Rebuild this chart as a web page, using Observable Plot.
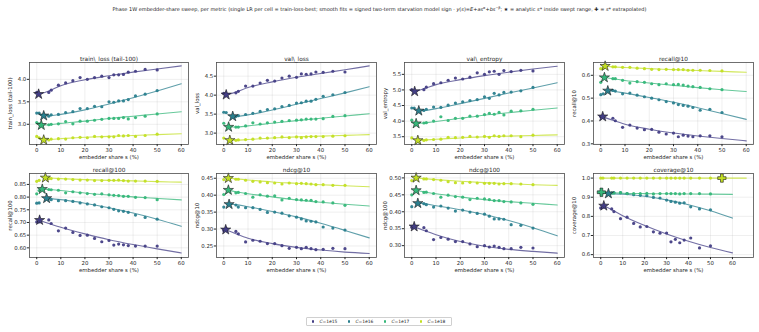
<!DOCTYPE html>
<html><head><meta charset="utf-8">
<script src="https://cdn.jsdelivr.net/npm/d3@7"></script>
<script src="https://cdn.jsdelivr.net/npm/@observablehq/plot@0.6"></script>
<style>
body{margin:0;background:#fff;font-family:"DejaVu Sans",sans-serif;}
#fig{position:relative;width:759px;height:332px;overflow:hidden;background:#fff}
.panel{position:absolute}
#suptitle{position:absolute;top:6px;left:0;width:759px;text-align:center;font-size:5px;color:#222;white-space:nowrap;line-height:6px}
#suptitle sup{font-size:3.5px;vertical-align:2px;line-height:0}
#legend{position:absolute;left:306px;top:317px;width:144px;height:7px;border:0.6px solid #d0d0d0;border-radius:1px;display:flex;align-items:center;font-size:4.4px;color:#222}
#legend .it{display:flex;align-items:center;width:37.7px}
#legend .dot{width:2.4px;height:2.4px;border-radius:50%;margin-left:4.6px;margin-right:5.5px}
</style></head><body>
<div id="fig">
<div id="suptitle">Phase 1W embedder-share sweep, per metric (single LR per cell = train-loss-best; smooth fits = signed two-term starvation model sign · <i>y</i>(<i>s</i>)=<i>E</i>+<i>as</i><sup>α</sup>+<i>bs</i><sup>−β</sup>; ★ = analytic <i>s</i>* inside swept range, ✚ = <i>s</i>* extrapolated)</div>
<div id="legend"></div>
</div>
<script>
// ---------------- data ----------------
const seriesNames = ["C=1e15", "C=1e16", "C=1e17", "C=1e18"];
const sGrid = [0, 1, 5, 6, 9, 12, 15, 18, 21, 24, 27, 30, 32, 34, 36, 38, 41, 45, 50];
const xTicks = [0, 10, 20, 30, 40, 50, 60];

const trainLoss = [
  [3.71, null, 3.71, 3.76, 3.87, 3.92, 3.97, 4.04, 4.00, 4.04, 4.07, 4.04, 4.10, 4.10, 4.11, 4.16, 4.18, 4.22, 4.21],
  [3.25, 3.25, 3.18, 3.21, 3.22, 3.26, 3.28, 3.35, 3.35, 3.40, 3.39, 3.50, 3.49, 3.52, 3.52, 3.55, 3.63, 3.67, 3.75],
  [3.04, 3.01, 2.99, 3.00, 3.01, 3.06, 3.01, 3.07, 3.07, 3.09, 3.11, 3.13, 3.13, 3.13, 3.15, 3.12, 3.15, 3.18, 3.23],
  [2.73, 2.70, 2.65, 2.67, 2.68, 2.67, 2.70, 2.71, 2.70, 2.73, 2.72, 2.72, 2.72, 2.75, 2.74, 2.75, 2.73, 2.75, 2.78]
];
const valLoss = [
  [4.05, null, 4.06, 4.10, 4.24, 4.24, 4.32, 4.39, 4.37, 4.45, 4.50, 4.47, 4.56, 4.55, 4.56, 4.61, 4.60, 4.63, 4.61],
  [3.55, 3.54, 3.44, 3.46, 3.49, 3.52, 3.57, 3.62, 3.64, 3.70, 3.73, 3.79, 3.80, 3.84, 3.84, 3.89, 3.97, 4.01, 4.07],
  [3.26, null, 3.16, 3.16, 3.19, 3.27, 3.24, 3.27, 3.29, 3.31, 3.33, 3.34, 3.35, 3.37, 3.37, 3.37, 3.38, 3.44, 3.46],
  [2.87, null, 2.81, 2.82, 2.83, 2.84, 2.87, 2.87, 2.88, 2.90, 2.88, 2.90, 2.88, 2.90, 2.91, 2.91, 2.91, 2.92, 2.93]
];
const valEntropy = [
  [5.01, null, 5.01, 5.09, 5.20, 5.23, 5.31, 5.38, 5.35, 5.41, 5.55, 5.50, 5.58, 5.60, 5.50, 5.62, 5.59, 5.63, 5.61],
  [4.42, 4.42, 4.34, 4.38, 4.45, 4.44, 4.51, 4.58, 4.62, 4.66, 4.69, 4.78, 4.73, 4.89, 4.84, 4.92, 4.93, 4.97, 5.08],
  [4.03, null, 3.94, 3.95, 4.00, 4.14, 4.02, 4.09, 4.09, 4.16, 4.16, 4.21, 4.25, 4.22, 4.28, 4.20, 4.32, 4.33, 4.38],
  [3.46, null, 3.38, 3.40, 3.41, 3.42, 3.48, 3.47, 3.48, 3.51, 3.49, 3.51, 3.48, 3.53, 3.51, 3.53, 3.53, 3.50, 3.55]
];
const recall10 = [
  [0.419, null, 0.412, 0.401, 0.372, 0.382, 0.369, 0.362, 0.363, 0.351, 0.343, 0.347, 0.331, 0.338, 0.334, 0.331, 0.335, 0.335, 0.331],
  [0.515, 0.519, 0.534, 0.531, 0.519, 0.522, 0.513, 0.506, 0.500, 0.493, 0.485, 0.479, 0.472, 0.468, 0.465, 0.459, 0.447, 0.451, 0.437],
  [0.569, null, 0.585, 0.585, 0.578, 0.566, 0.572, 0.569, 0.563, 0.559, 0.563, 0.559, 0.560, 0.557, 0.553, 0.550, 0.547, 0.541, 0.537],
  [0.629, 0.631, 0.637, 0.637, 0.635, 0.635, 0.631, 0.629, 0.626, 0.625, 0.626, 0.625, 0.625, 0.625, 0.622, 0.622, 0.622, 0.621, 0.619]
];
const recall100 = [
  [0.702, 0.702, 0.710, 0.696, 0.667, 0.678, 0.661, 0.649, 0.650, 0.637, 0.624, 0.629, 0.611, 0.615, 0.612, 0.609, 0.607, 0.607, 0.607],
  [0.776, 0.777, 0.795, 0.790, 0.786, 0.786, 0.783, 0.777, 0.773, 0.769, 0.762, 0.758, 0.752, 0.746, 0.744, 0.740, 0.729, 0.720, 0.713],
  [0.813, 0.826, 0.830, 0.829, 0.827, 0.817, 0.821, 0.817, 0.814, 0.811, 0.813, 0.809, 0.807, 0.806, 0.803, 0.803, 0.799, 0.798, 0.790],
  [0.862, 0.866, 0.873, 0.873, 0.871, 0.871, 0.869, 0.867, 0.867, 0.865, 0.865, 0.866, 0.866, 0.867, 0.865, 0.863, 0.863, 0.863, 0.862]
];
const ndcg10 = [
  [0.296, 0.301, 0.293, 0.286, 0.262, 0.267, 0.264, 0.257, 0.257, 0.251, 0.243, 0.246, 0.242, 0.246, 0.242, 0.239, 0.240, 0.243, 0.242],
  [0.365, null, 0.371, 0.365, 0.363, 0.363, 0.358, 0.349, 0.350, 0.347, 0.339, 0.335, 0.330, 0.324, 0.323, 0.321, 0.306, 0.303, 0.297],
  [0.402, null, 0.407, 0.408, 0.405, 0.394, 0.401, 0.397, 0.398, 0.386, 0.391, 0.387, 0.386, 0.385, 0.385, 0.381, 0.380, 0.377, 0.370],
  [0.446, null, 0.447, 0.447, 0.444, 0.441, 0.439, 0.437, 0.436, 0.433, 0.436, 0.434, 0.435, 0.434, 0.433, 0.431, 0.431, 0.429, 0.429]
];
const ndcg100 = [
  [0.354, null, 0.353, 0.344, 0.318, 0.324, 0.319, 0.312, 0.312, 0.305, 0.297, 0.300, 0.296, 0.299, 0.295, 0.291, 0.291, 0.295, 0.293],
  [0.415, null, 0.424, 0.421, 0.414, 0.417, 0.411, 0.402, 0.405, 0.399, 0.395, 0.393, 0.387, 0.379, 0.379, 0.378, 0.362, 0.360, 0.352],
  [0.450, null, 0.457, 0.458, 0.454, 0.443, 0.449, 0.445, 0.443, 0.436, 0.440, 0.438, 0.436, 0.433, 0.433, 0.430, 0.429, 0.426, 0.422],
  [0.492, null, 0.497, 0.497, 0.495, 0.493, 0.489, 0.486, 0.485, 0.487, 0.485, 0.484, 0.484, 0.484, 0.482, 0.483, 0.483, 0.482, 0.480]
];
const coverage10 = [
  [0.844, 0.848, 0.839, 0.825, 0.788, 0.796, 0.763, 0.745, 0.747, 0.719, 0.712, 0.713, 0.667, 0.680, 0.662, 0.676, 0.687, 0.635, 0.646],
  [0.924, 0.924, 0.922, 0.924, 0.924, 0.919, 0.913, 0.910, 0.908, 0.899, 0.896, 0.885, 0.878, 0.874, 0.869, 0.871, 0.850, 0.839, 0.834],
  [0.926, null, 0.922, 0.922, 0.924, 0.919, 0.919, 0.919, 0.920, 0.917, 0.919, 0.919, 0.919, 0.919, 0.917, 0.919, 0.919, 0.919, 0.917],
  [1.0, 1.0, 1.0, 1.0, 1.0, 1.0, 1.0, 1.0, 1.0, 1.0, 1.0, 1.0, 1.0, 1.0, 1.0, 1.0, 1.0, 1.0, 1.0]
];

// smooth model fits: [s, y]
const trainLossFit = [
  [[1,3.67],[5,3.74],[10,3.86],[20,3.99],[30,4.08],[40,4.16],[50,4.23],[60,4.30]],
  [[3,3.19],[5,3.19],[10,3.22],[20,3.32],[30,3.45],[40,3.59],[50,3.74],[60,3.90]],
  [[2,2.98],[5,2.99],[10,3.02],[20,3.07],[30,3.13],[40,3.18],[50,3.23],[60,3.28]],
  [[3,2.65],[5,2.66],[10,2.68],[20,2.71],[30,2.73],[40,2.75],[50,2.77],[60,2.79]]
];
const valLossFit = [
  [[1,4.01],[5,4.08],[10,4.20],[20,4.35],[30,4.47],[40,4.57],[50,4.67],[60,4.77]],
  [[3.7,3.44],[5,3.44],[10,3.48],[20,3.61],[30,3.76],[40,3.91],[50,4.06],[60,4.22]],
  [[2,3.16],[5,3.16],[10,3.19],[20,3.26],[30,3.33],[40,3.39],[50,3.45],[60,3.51]],
  [[2.5,2.81],[5,2.81],[10,2.83],[20,2.87],[30,2.90],[40,2.92],[50,2.94],[60,2.96]]
];
const valEntropyFit = [
  [[1.2,4.95],[5,5.04],[10,5.17],[20,5.33],[30,5.46],[40,5.57],[50,5.67],[60,5.76]],
  [[2.9,4.33],[5,4.34],[10,4.40],[20,4.56],[30,4.73],[40,4.90],[50,5.06],[60,5.23]],
  [[1.8,3.92],[5,3.94],[10,3.99],[20,4.09],[30,4.19],[40,4.27],[50,4.35],[60,4.42]],
  [[2.5,3.38],[5,3.39],[10,3.42],[20,3.46],[30,3.50],[40,3.52],[50,3.54],[60,3.56]]
];
const recall10Fit = [
  [[0.8,0.419],[5,0.403],[10,0.386],[20,0.364],[30,0.347],[40,0.334],[50,0.323],[60,0.313]],
  [[2.9,0.532],[5,0.530],[10,0.522],[20,0.503],[30,0.482],[40,0.458],[50,0.433],[60,0.407]],
  [[1.5,0.590],[5,0.585],[10,0.577],[20,0.566],[30,0.556],[40,0.546],[50,0.537],[60,0.529]],
  [[1.8,0.640],[5,0.637],[10,0.634],[20,0.629],[30,0.625],[40,0.621],[50,0.617],[60,0.613]]
];
const recall100Fit = [
  [[1.2,0.709],[5,0.696],[10,0.681],[20,0.655],[30,0.632],[40,0.613],[50,0.596],[60,0.580]],
  [[4.1,0.795],[10,0.790],[20,0.776],[30,0.758],[40,0.737],[50,0.713],[60,0.685]],
  [[2.3,0.831],[5,0.830],[10,0.826],[20,0.816],[30,0.808],[40,0.801],[50,0.795],[60,0.789]],
  [[3.6,0.876],[10,0.873],[20,0.869],[30,0.866],[40,0.864],[50,0.861],[60,0.859]]
];
const ndcg10Fit = [
  [[0.8,0.298],[5,0.286],[10,0.273],[20,0.257],[30,0.246],[40,0.238],[50,0.232],[60,0.228]],
  [[2.2,0.373],[5,0.372],[10,0.366],[20,0.352],[30,0.336],[40,0.317],[50,0.296],[60,0.274]],
  [[1.9,0.415],[5,0.410],[10,0.404],[20,0.395],[30,0.386],[40,0.379],[50,0.373],[60,0.368]],
  [[1.9,0.450],[5,0.448],[10,0.445],[20,0.439],[30,0.435],[40,0.431],[50,0.428],[60,0.425]]
];
const ndcg100Fit = [
  [[1,0.356],[5,0.345],[10,0.332],[20,0.312],[30,0.298],[40,0.289],[50,0.283],[60,0.278]],
  [[2.5,0.425],[5,0.424],[10,0.418],[20,0.406],[30,0.392],[40,0.374],[50,0.353],[60,0.329]],
  [[1.8,0.463],[5,0.459],[10,0.453],[20,0.444],[30,0.436],[40,0.430],[50,0.425],[60,0.420]],
  [[1.8,0.500],[5,0.498],[10,0.495],[20,0.490],[30,0.486],[40,0.483],[50,0.480],[60,0.478]]
];
const coverage10Fit = [
  [[1.4,0.855],[5,0.835],[10,0.803],[20,0.752],[30,0.708],[40,0.670],[50,0.637],[60,0.609]],
  [[3.5,0.919],[10,0.916],[20,0.905],[30,0.886],[40,0.861],[50,0.829],[60,0.791]],
  [[0.3,0.926],[10,0.921],[20,0.919],[30,0.918],[40,0.917],[50,0.916],[60,0.915]],
  [[0,1.0],[66.3,1.0]]
];

// optimum markers s* : [s, y]
const trainLossOpt = [[0.8,3.67],[2.9,3.19],[1.9,2.98],[2.9,2.65]];
const valLossOpt = [[1.0,4.01],[3.7,3.44],[2.0,3.16],[2.5,2.81]];
const valEntropyOpt = [[1.2,4.95],[2.9,4.33],[1.8,3.92],[2.5,3.38]];
const recall10Opt = [[0.8,0.419],[2.9,0.532],[1.5,0.590],[1.8,0.640]];
const recall100Opt = [[1.2,0.709],[4.1,0.795],[2.3,0.831],[3.6,0.876]];
const ndcg10Opt = [[0.8,0.298],[2.2,0.373],[1.9,0.415],[1.9,0.450]];
const ndcg100Opt = [[1.0,0.356],[2.5,0.425],[1.8,0.463],[1.8,0.500]];
const coverage10Opt = [[1.4,0.855],[3.5,0.919],[0.3,0.926],[55.2,1.0]];
const coverage10OptKind = ["star", "star", "cross", "cross"];

// ---------------- styles / layout ----------------
const seriesColors = ["#433e85", "#2a7f8e", "#35b779", "#c2df23"];
const colL = [28.5, 216, 404, 592.5], colR = [187.5, 376, 564, 752.5];
const rowTop = [62.3, 172.7], rowH = [82, 84];
const M = {l: 30, r: 3, t: 14, b: 22};

const panels = [
  {title: "train\\_loss (tail-100)", ylab: "train_loss (tail-100)", v: trainLoss, fit: trainLossFit, opt: trainLossOpt, yd: [2.55, 4.375], yt: [3.0, 3.5, 4.0], fmt: ".1f"},
  {title: "val\\_loss", ylab: "val_loss", v: valLoss, fit: valLossFit, opt: valLossOpt, yd: [2.70, 4.86], yt: [3.0, 3.5, 4.0, 4.5], fmt: ".1f"},
  {title: "val\\_entropy", ylab: "val_entropy", v: valEntropy, fit: valEntropyFit, opt: valEntropyOpt, yd: [3.25, 5.88], yt: [3.5, 4.0, 4.5, 5.0, 5.5], fmt: ".1f"},
  {title: "recall@10", ylab: "recall@10", v: recall10, fit: recall10Fit, opt: recall10Opt, yd: [0.297, 0.656], yt: [0.3, 0.4, 0.5, 0.6], fmt: ".1f"},
  {title: "recall@100", ylab: "recall@100", v: recall100, fit: recall100Fit, opt: recall100Opt, yd: [0.562, 0.893], yt: [0.60, 0.65, 0.70, 0.75, 0.80, 0.85], fmt: ".2f"},
  {title: "ndcg@10", ylab: "ndcg@10", v: ndcg10, fit: ndcg10Fit, opt: ndcg10Opt, yd: [0.216, 0.464], yt: [0.25, 0.30, 0.35, 0.40, 0.45], fmt: ".2f"},
  {title: "ndcg@100", ylab: "ndcg@100", v: ndcg100, fit: ndcg100Fit, opt: ndcg100Opt, yd: [0.265, 0.513], yt: [0.30, 0.35, 0.40, 0.45, 0.50], fmt: ".2f"},
  {title: "coverage@10", ylab: "coverage@10", v: coverage10, fit: coverage10Fit, opt: coverage10Opt, kind: coverage10OptKind, yd: [0.585, 1.024], yt: [0.6, 0.7, 0.8, 0.9, 1.0], fmt: ".1f", xd: [-3.3, 69.6]}
];

const fig = document.getElementById("fig");
panels.forEach((p, idx) => {
  const row = Math.floor(idx / 4), col = idx % 4;
  const fw = colR[col] - colL[col], fh = rowH[row];
  const pts = [];
  p.v.forEach((arr, k) => arr.forEach((y, i) => { if (y != null) pts.push({s: sGrid[i], y, c: seriesNames[k]}); }));
  const fits = [];
  p.fit.forEach((arr, k) => arr.forEach(([s, y]) => fits.push({s, y, c: seriesNames[k]})));
  const kinds = p.kind || ["star", "star", "star", "star"];
  const opt = p.opt.map(([s, y], k) => ({s, y, c: seriesNames[k], kind: kinds[k]}));
  const chart = Plot.plot({
    width: fw + M.l + M.r,
    height: fh + M.t + M.b,
    marginLeft: M.l, marginRight: M.r, marginTop: M.t, marginBottom: M.b,
    style: {background: "transparent", fontFamily: "DejaVu Sans, sans-serif", fontSize: "5.4px", color: "#262626", overflow: "visible"},
    x: {domain: p.xd || [-3, 63]},
    y: {domain: p.yd},
    color: {domain: seriesNames, range: seriesColors},
    marks: [
      Plot.gridX(xTicks, {stroke: "#b0b0b0", strokeOpacity: 0.4, strokeWidth: 0.5}),
      Plot.gridY(p.yt, {stroke: "#b0b0b0", strokeOpacity: 0.4, strokeWidth: 0.5}),
      Plot.line(fits, {x: "s", y: "y", z: "c", stroke: "c", strokeWidth: 1.1, strokeOpacity: 0.75, curve: "monotone-x"}),
      Plot.dot(pts, {x: "s", y: "y", fill: "c", r: 1.6, fillOpacity: 0.95}),
      Plot.dot(opt.filter(d => d.kind === "star"), {x: "s", y: "y", fill: "c", symbol: "star", r: 3.2, stroke: "#1a1a1a", strokeWidth: 0.6}),
      Plot.dot(opt.filter(d => d.kind === "cross"), {x: "s", y: "y", fill: "c", symbol: "cross", r: 3.5, stroke: "#1a1a1a", strokeWidth: 0.6}),
      Plot.frame({stroke: "#4d4d4d", strokeWidth: 0.8}),
      Plot.axisX(xTicks, {tickSize: 2.2, tickPadding: 1, fontSize: 5.4, tickFormat: "d", label: "embedder share s (%)", labelAnchor: "center", labelOffset: 14, labelArrow: false}),
      Plot.axisY(p.yt, {tickSize: 2.2, tickPadding: 1, fontSize: 5.4, tickFormat: p.fmt, label: p.ylab, labelAnchor: "center", labelOffset: 21, labelArrow: false}),
      Plot.text([p.title], {frameAnchor: "top", dy: -6, fontSize: 5.8, fill: "#262626"})
    ]
  });
  const div = document.createElement("div");
  div.className = "panel";
  div.style.left = (colL[col] - M.l) + "px";
  div.style.top = (rowTop[row] - M.t) + "px";
  div.appendChild(chart);
  fig.appendChild(div);
});

// legend
const leg = document.getElementById("legend");
seriesNames.forEach((n, k) => {
  const it = document.createElement("div");
  it.className = "it";
  it.innerHTML = `<span class="dot" style="background:${seriesColors[k]}"></span><span><i>C</i>=1e${n.slice(4)}</span>`;
  leg.appendChild(it);
});
</script>
</body></html>
